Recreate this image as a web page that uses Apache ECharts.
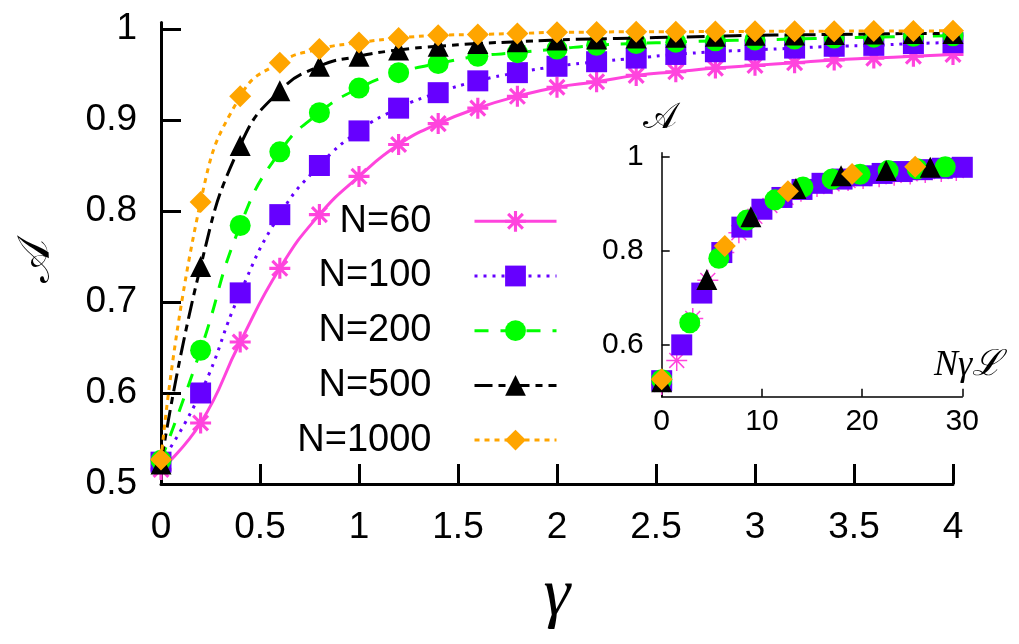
<!DOCTYPE html>
<html>
<head>
<meta charset="utf-8">
<script src="https://cdn.jsdelivr.net/npm/echarts@6/dist/echarts.min.js"></script>
<style>
html,body{margin:0;padding:0;background:#fff;}
#chart{width:1019px;height:644px;}
</style>
</head>
<body>
<div id="chart"></div>
<script>
// ---- data ----
const gammas = [0, 0.2, 0.4, 0.6, 0.8, 1.0, 1.2, 1.4, 1.6, 1.8, 2.0, 2.2, 2.4, 2.6, 2.8, 3.0, 3.2, 3.4, 3.6, 3.8, 4.0];
const seriesNames = ['N=60', 'N=100', 'N=200', 'N=500', 'N=1000'];
const a60   = [0.516, 0.567, 0.656, 0.737, 0.796, 0.838, 0.873, 0.896, 0.913, 0.926, 0.936, 0.942, 0.949, 0.953, 0.957, 0.960, 0.963, 0.966, 0.968, 0.970, 0.972];
const a100  = [0.524, 0.600, 0.710, 0.796, 0.850, 0.888, 0.913, 0.930, 0.943, 0.952, 0.959, 0.964, 0.968, 0.972, 0.975, 0.977, 0.979, 0.981, 0.982, 0.984, 0.985];
const a200  = [0.526, 0.647, 0.784, 0.865, 0.908, 0.935, 0.952, 0.962, 0.970, 0.974, 0.978, 0.982, 0.984, 0.9855, 0.987, 0.988, 0.989, 0.990, 0.991, 0.992, 0.9925];
const a500  = [0.522, 0.739, 0.872, 0.932, 0.959, 0.970, 0.977, 0.981, 0.984, 0.986, 0.988, 0.989, 0.990, 0.991, 0.992, 0.993, 0.9935, 0.994, 0.9945, 0.995, 0.995];
const a1000 = [0.527, 0.810, 0.926, 0.963, 0.978, 0.985, 0.990, 0.993, 0.994, 0.995, 0.9964, 0.9966, 0.997, 0.997, 0.9972, 0.9974, 0.9975, 0.9976, 0.9977, 0.9978, 0.998];
// inset abscissa N*gamma*L for the visible points
const insetX60   = [0, 1.5, 3.1, 4.6, 6.2, 7.7, 9.3, 10.8, 12.4, 13.9, 15.5, 17.0, 18.6, 20.1, 21.7, 23.2, 24.8, 26.3, 27.9, 29.4];
const insetX100  = [0, 2, 4, 6, 8, 10, 12, 14, 16, 18, 20, 22, 24, 26, 28, 30];
const insetX200  = [0, 2.8, 5.7, 8.5, 11.3, 14.1, 17.0, 19.8, 22.6, 25.5, 28.3];
const insetX500  = [0, 4.5, 8.9, 13.4, 17.9, 22.4, 26.8];
const insetX1000 = [0, 6.3, 12.6, 19.0, 25.3];
const mainYTicks = [0.5, 0.6, 0.7, 0.8, 0.9, 1];
const insetYTicks = [0.6, 0.8, 1];

// ---- styles ----
const STAR = 'path://M-1.5,-10L1.5,-10L1.5,10L-1.5,10Z M-10,-1.5L10,-1.5L10,1.5L-10,1.5Z M-8.13,-6.01L-6.01,-8.13L8.13,6.01L6.01,8.13Z M-6.01,8.13L-8.13,6.01L6.01,-8.13L8.13,-6.01Z';
const STAR_THIN = 'path://M-0.7,-10L0.7,-10L0.7,10L-0.7,10Z M-10,-0.7L10,-0.7L10,0.7L-10,0.7Z M-7.57,-6.58L-6.58,-7.57L7.57,6.58L6.58,7.57Z M-6.58,7.57L-7.57,6.58L6.58,-7.57L7.57,-6.58Z';
const styles = [
  {color: '#ff44dd', symbol: STAR, insetSymbol: STAR_THIN, size: 21, dash: 'solid'},
  {color: '#6600ff', symbol: 'rect', insetSymbol: 'rect', size: 21, dash: [3, 6]},
  {color: '#00ff00', symbol: 'circle', insetSymbol: 'circle', size: 21, dash: [14, 12]},
  {color: '#000000', symbol: 'triangle', insetSymbol: 'triangle', size: 21, dash: [18, 6, 7, 6]},
  {color: '#ffa500', symbol: 'diamond', insetSymbol: 'diamond', size: 22, dash: [5, 5]}
];
const mainValues = [a60, a100, a200, a500, a1000];
const insetXs = [insetX60, insetX100, insetX200, insetX500, insetX1000];

const series = [];
mainValues.forEach((vals, k) => {
  const s = styles[k];
  series.push({
    type: 'line', name: seriesNames[k], xAxisIndex: 0, yAxisIndex: 0,
    data: gammas.map((g, i) => [g, vals[i]]),
    smooth: 0.5,
    symbol: s.symbol, symbolSize: s.size, showAllSymbol: true,
    lineStyle: {color: s.color, width: 3, type: s.dash},
    itemStyle: {color: s.color},
    clip: false, animation: false, z: 2 + k
  });
});
mainValues.forEach((vals, k) => {
  const s = styles[k];
  series.push({
    type: 'scatter', name: 'inset ' + seriesNames[k], xAxisIndex: 1, yAxisIndex: 1,
    data: insetXs[k].map((x, i) => [x, vals[i]]),
    symbol: s.insetSymbol, symbolSize: s.size,
    itemStyle: {color: s.color, opacity: 1},
    clip: false, animation: false, z: 10 + k
  });
});

const FONT = 'Liberation Sans';
const chart = echarts.init(document.getElementById('chart'), null, {renderer: 'canvas'});
chart.setOption({
  backgroundColor: '#ffffff',
  animation: false,
  grid: [
    {left: 161, right: 66, top: 22.6, bottom: 160},
    {left: 661.7, right: 56.7, top: 152.7, bottom: 247.3}
  ],
  xAxis: [
    {
      type: 'value', gridIndex: 0, min: 0, max: 4, interval: 0.5,
      axisLine: {lineStyle: {color: '#000', width: 3}},
      axisTick: {inside: true, length: 20, lineStyle: {color: '#000', width: 3}},
      axisLabel: {fontSize: 37, fontFamily: FONT, color: '#000', margin: 25},
      splitLine: {show: false}
    },
    {
      type: 'value', gridIndex: 1, min: 0, max: 30, interval: 10,
      axisLine: {lineStyle: {color: '#000', width: 1.5}},
      axisTick: {inside: true, length: 8, lineStyle: {color: '#000', width: 1.5}},
      axisLabel: {fontSize: 30, fontFamily: FONT, color: '#000', margin: 10},
      splitLine: {show: false}
    }
  ],
  yAxis: [
    {
      type: 'value', gridIndex: 0, min: 0.5, max: 1.007,
      axisLine: {show: true, lineStyle: {color: '#000', width: 3}},
      axisTick: {show: true, inside: true, length: 20, customValues: mainYTicks, lineStyle: {color: '#000', width: 3}},
      axisLabel: {customValues: mainYTicks, fontSize: 37, fontFamily: FONT, color: '#000', margin: 24},
      splitLine: {show: false}
    },
    {
      type: 'value', gridIndex: 1, min: 0.49, max: 1.008,
      axisLine: {show: true, lineStyle: {color: '#000', width: 1.5}},
      axisTick: {show: true, inside: true, length: 8, customValues: insetYTicks, lineStyle: {color: '#000', width: 1.5}},
      axisLabel: {customValues: insetYTicks, fontSize: 30, fontFamily: FONT, color: '#000', margin: 18},
      splitLine: {show: false}
    }
  ],
  legend: {
    data: seriesNames, orient: 'vertical', align: 'right',
    right: 461, top: 201.3, padding: 0,
    itemWidth: 82, itemHeight: 26, itemGap: 14.7,
    selectedMode: false,
    lineStyle: {width: 3},
    textStyle: {fontSize: 38, fontFamily: FONT, color: '#000', lineHeight: 40, padding: [0, 38, 0, 0]}
  },
  graphic: [
    {type: 'text', x: 37, y: 261, rotation: Math.PI / 2,
      style: {text: '\uD835\uDC9C', fontSize: 46, fontFamily: 'DejaVu Serif', fill: '#000', align: 'center', verticalAlign: 'middle'}},
    {type: 'text', x: 557, y: 597,
      style: {text: 'γ', fontSize: 68, fontFamily: 'Liberation Serif', fontStyle: 'italic', fill: '#000', align: 'center', verticalAlign: 'middle'}},
    {type: 'text', x: 660, y: 119,
      style: {text: '\uD835\uDC9C', fontSize: 36, fontFamily: 'DejaVu Serif', fill: '#000', align: 'center', verticalAlign: 'middle'}},
    {type: 'text', x: 968, y: 366,
      style: {text: 'Nγℒ', fontSize: 36, fontFamily: 'Liberation Serif', fontStyle: 'italic', fill: '#000', align: 'center', verticalAlign: 'middle'}}
  ],
  series: series
});
</script>
</body>
</html>
